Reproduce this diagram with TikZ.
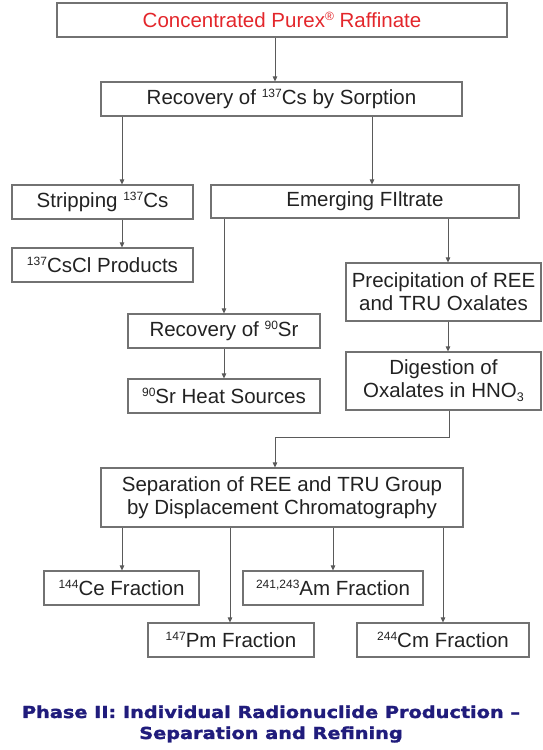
\documentclass[tikz,border=0pt]{standalone}
\usepackage{fontspec}
\setmainfont{Liberation Sans}
\newfontfamily\titlefont[FakeStretch=1.17, FakeBold=1.6]{DejaVu Sans Bold}
\usetikzlibrary{arrows.meta}

\definecolor{boxgray}{HTML}{727272}
\definecolor{linegray}{HTML}{5A5A5A}
\definecolor{rafred}{HTML}{E3262B}
\definecolor{titleblue}{HTML}{201C7C}
\definecolor{txtgray}{HTML}{222222}

\newcommand{\nuc}[1]{\raisebox{6.6pt}{\fontsize{12}{12}\selectfont #1}}
\newcommand{\lowsub}[1]{\raisebox{-4pt}{\fontsize{12.5}{12}\selectfont #1}}

\begin{document}
\begin{tikzpicture}[x=1pt, y=-1pt,
	box/.style={draw=boxgray, line width=1.1pt, inner sep=0pt, align=center,
		text=txtgray, font=\fontsize{20.5}{23}\selectfont},
	arr/.style={draw=linegray, line width=0.8pt, -{Triangle[length=5pt,width=4.5pt]}},
	titlenode/.style={text=titleblue, align=center, inner sep=0pt,
		font=\titlefont\fontsize{16.5}{21}\selectfont}]
		
		\useasboundingbox (0,0) rectangle (542,750);
		
		% Draw the process boxes
		\node[box, minimum width=450, minimum height=34, text=rafred] (raff) at (282,20)
			{Concentrated Purex\nuc{\textregistered} Raffinate};
		\node[box, minimum width=361, minimum height=34] (sorp) at (281.5,99)
			{Recovery of \nuc{137}Cs by Sorption};
		\node[box, minimum width=181, minimum height=34] (strip) at (102.5,202)
			{Stripping \nuc{137}Cs};
		\node[box, minimum width=308, minimum height=33] (filt) at (365,201.5)
			{Emerging FIltrate};
		\node[box, minimum width=181, minimum height=34] (cscl) at (102.5,265)
			{\nuc{137}CsCl Products};
		\node[box, minimum width=195, minimum height=58] (prec) at (443.5,292)
			{Precipitation of REE\\and TRU Oxalates};
		\node[box, minimum width=192, minimum height=34] (srrec) at (224,331)
			{Recovery of \nuc{90}Sr};
		\node[box, minimum width=192, minimum height=34] (srheat) at (224,396)
			{\nuc{90}Sr Heat Sources};
		\node[box, minimum width=195, minimum height=58] (dig) at (443.5,381)
			{Digestion of\\Oxalates in HNO\lowsub{3}};
		\node[box, minimum width=362, minimum height=59] (sep) at (282,497.5)
			{Separation of REE and TRU Group\\by Displacement Chromatography};
		
		% Draw the fractions
		\node[box, minimum width=155, minimum height=34] (ce) at (121.5,588)
			{\nuc{144}Ce Fraction};
		\node[box, minimum width=180, minimum height=34] (am) at (333,588)
			{\nuc{241,243}Am Fraction};
		\node[box, minimum width=166, minimum height=34] (pm) at (231,640)
			{\nuc{147}Pm Fraction};
		\node[box, minimum width=172, minimum height=34] (cm) at (443,640)
			{\nuc{244}Cm Fraction};
		
		% Draw the arrows
		\draw[arr] (raff.south -| 275,0) -- (sorp.north -| 275,0);
		\draw[arr] (sorp.south -| 122,0) -- (strip.north -| 122,0);
		\draw[arr] (sorp.south -| 372,0) -- (filt.north -| 372,0);
		\draw[arr] (strip.south -| 122,0) -- (cscl.north -| 122,0);
		\draw[arr] (filt.south -| 224,0) -- (srrec.north -| 224,0);
		\draw[arr] (filt.south -| 448,0) -- (prec.north -| 448,0);
		\draw[arr] (srrec) -- (srheat);
		\draw[arr] (prec.south -| 448,0) -- (dig.north -| 448,0);
		\coordinate (bend) at (275,437);
		\draw[arr] (dig.south -| 449,0) |- (bend) -- (sep.north -| bend);
		\foreach \to/\xx in {ce/122, pm/230, am/333, cm/443}{
			\draw[arr] (sep.south -| \xx,0) -- (\to.north -| \xx,0);
		}
		
		% Caption
		\node[titlenode] (caption) at (271,724)
			{Phase II: Individual Radionuclide Production \textendash\\Separation and Refining};
	\end{tikzpicture}
\end{document}
